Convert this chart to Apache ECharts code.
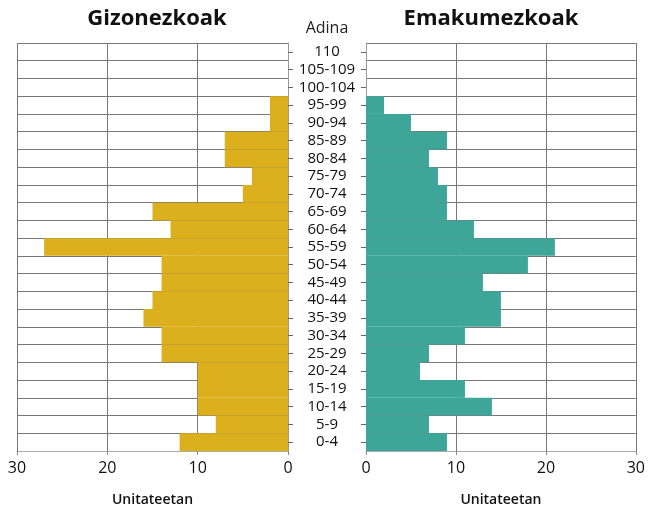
<!DOCTYPE html>
<html>
<head>
<meta charset="utf-8">
<script src="https://cdn.jsdelivr.net/npm/echarts@6/dist/echarts.min.js"></script>
<style>
  html, body { margin: 0; padding: 0; background: #fff; }
  #chart { width: 648px; height: 512px; }
</style>
</head>
<body>
<div id="chart"></div>
<script>
// adin taldeak, behetik gora
var ageGroups = ['0-4', '5-9', '10-14', '15-19', '20-24', '25-29', '30-34', '35-39', '40-44', '45-49',
    '50-54', '55-59', '60-64', '65-69', '70-74', '75-79', '80-84', '85-89', '90-94', '95-99',
    '100-104', '105-109', '110'];
var menValues = [12, 8, 10, 10, 10, 14, 14, 16, 15, 14, 14, 27, 13, 15, 5, 4, 7, 7, 2, 2, 0, 0, 0];
var womenValues = [9, 7, 14, 11, 6, 7, 11, 15, 15, 13, 18, 21, 12, 9, 9, 8, 7, 9, 5, 2, 0, 0, 0];
var valueTicks = [0, 10, 20, 30];

var FONT = 'Open Sans';
var lineColor = '#777';

function valueAxis(gridIndex, inverse) {
    return {
        type: 'value',
        gridIndex: gridIndex,
        inverse: inverse,
        min: valueTicks[0],
        max: valueTicks[valueTicks.length - 1],
        interval: 10,
        name: 'Unitateetan',
        nameLocation: 'middle',
        nameGap: 42,
        nameTextStyle: { fontFamily: FONT, fontSize: 14, fontWeight: 600, color: '#111' },
        axisLine: { show: true, lineStyle: { color: '#aaa' } },
        axisTick: { show: true, length: 4, lineStyle: { color: '#888' } },
        axisLabel: { fontFamily: FONT, fontSize: 16, color: '#111', margin: 9 },
        splitLine: { show: true, lineStyle: { color: lineColor, width: 1 } }
    };
}

function ageAxis(gridIndex, position, showLabel) {
    return {
        type: 'category',
        gridIndex: gridIndex,
        position: position,
        data: ageGroups,
        boundaryGap: true,
        name: showLabel ? 'Adina' : '',
        nameLocation: 'end',
        nameGap: 7,
        nameTextStyle: { fontFamily: FONT, fontSize: 16, color: '#222', align: 'center', padding: [0, 0, 0, -78] },
        axisLine: { show: true, lineStyle: { color: '#999' } },
        axisTick: { show: true, alignWithLabel: true, length: 5, lineStyle: { color: '#666' } },
        axisLabel: {
            show: showLabel, interval: 0, align: 'center', margin: 39,
            fontFamily: FONT, fontSize: 15, color: '#111'
        },
        splitLine: { show: true, interval: 0, lineStyle: { color: lineColor, width: 1 } }
    };
}

var chart = echarts.init(document.getElementById('chart'));
var option = {
    backgroundColor: '#fff',
    animation: false,
    title: [
        { text: 'Gizonezkoak', left: 152, top: 3, textAlign: 'center',
          textStyle: { fontFamily: FONT, fontSize: 22, fontWeight: 'bold', color: '#111' } },
        { text: 'Emakumezkoak', left: 486, top: 3, textAlign: 'center',
          textStyle: { fontFamily: FONT, fontSize: 22, fontWeight: 'bold', color: '#111' } }
    ],
    grid: [
        { left: 17, right: 360, top: 43, bottom: 60 },
        { left: 366, right: 12, top: 43, bottom: 60 }
    ],
    xAxis: [valueAxis(0, true), valueAxis(1, false)],
    yAxis: [ageAxis(0, 'right', false), ageAxis(1, 'left', true)],
    series: [
        { name: 'Gizonezkoak', type: 'bar', xAxisIndex: 0, yAxisIndex: 0,
          data: menValues, barCategoryGap: 0, itemStyle: { color: '#DBB01C' } },
        { name: 'Emakumezkoak', type: 'bar', xAxisIndex: 1, yAxisIndex: 1,
          data: womenValues, barCategoryGap: 0, itemStyle: { color: '#3EA699' } }
    ]
};
chart.setOption(option);
</script>
</body>
</html>
